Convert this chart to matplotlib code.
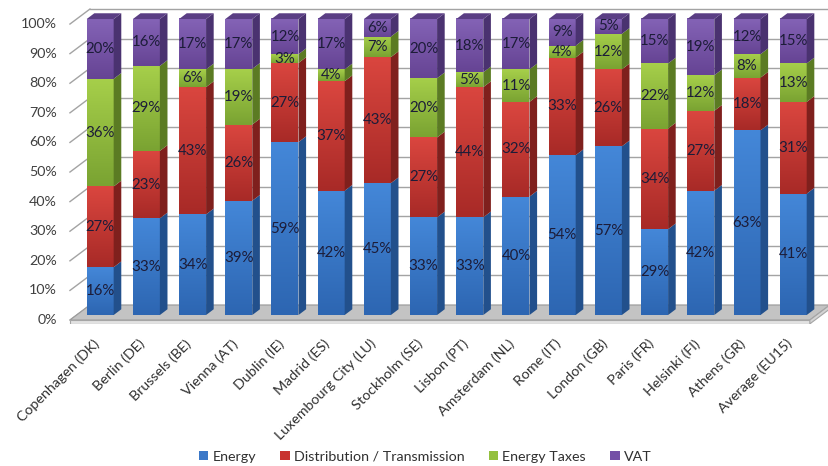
import numpy as np
import matplotlib
matplotlib.use('Agg')
import matplotlib.pyplot as plt
from matplotlib.patches import Polygon, Patch
from matplotlib.colors import LinearSegmentedColormap

cities = ['Copenhagen (DK)', 'Berlin (DE)', 'Brussels (BE)', 'Vienna (AT)',
          'Dublin (IE)', 'Madrid (ES)', 'Luxembourg City (LU)', 'Stockholm (SE)',
          'Lisbon (PT)', 'Amsterdam (NL)', 'Rome (IT)', 'London (GB)',
          'Paris (FR)', 'Helsinki (FI)', 'Athens (GR)', 'Average (EU15)']
energy = [16, 33, 34, 39, 59, 42, 45, 33, 33, 40, 54, 57, 29, 42, 63, 41]
distribution = [27, 23, 43, 26, 27, 37, 43, 27, 44, 32, 33, 26, 34, 27, 18, 31]
energy_taxes = [36, 29, 6, 19, 3, 4, 7, 20, 5, 11, 4, 12, 22, 12, 8, 13]
vat = [20, 16, 17, 17, 12, 17, 6, 20, 18, 17, 9, 5, 15, 19, 12, 15]
series_names = ['Energy', 'Distribution / Transmission', 'Energy Taxes', 'VAT']
y_ticks = list(range(0, 101, 10))

# (light, dark, side, top) per series
palette = [
    ('#4487d8', '#2d66b2', '#22508c', '#3566a6'),
    ('#da463f', '#a82a27', '#7f201d', '#9a2a26'),
    ('#a6cf4a', '#7aa332', '#5b7b23', '#6f9230'),
    ('#8463b6', '#664494', '#4a3270', '#5a3e84'),
]
legend_colors = ['#3b78c8', '#c8332f', '#94c03e', '#7450a6']

plt.rcParams['font.family'] = ['Lato', 'DejaVu Sans']

fig = plt.figure(figsize=(8.29, 4.66), dpi=100)
ax = fig.add_axes([0.0651, 0.3049, 0.9363, 0.686])
ax.axis('off')

# fake 3D geometry (data units)
FX, FV = -0.145, -1.69     # front edge of floor / side wall
BX, BV = 0.288, 3.38       # back wall
DX, DV = 0.165, 1.95       # bar depth
XL, XR = -0.509, 15.505
W = 0.584
grid_c = '#a3a3a3'

# back wall + left wall grid
for v in y_ticks:
    ax.plot([XL + BX, XR + BX], [v + BV, v + BV], color=grid_c, lw=1.0, zorder=1)
    ax.plot([XL + FX, XL + BX], [v + FV, v + BV], color=grid_c, lw=1.0, zorder=1)
    ax.text(XL + FX - 0.28, v + FV, f'{v}%', ha='right', va='center',
            fontsize=10.3, color='#404040')

# floor slab
th = 1.3
ax.add_patch(Polygon([(XL + FX, FV), (XR + FX, FV), (XR + BX, BV), (XL + BX, BV)],
                     closed=True, fc='#c3c3c3', ec='#9c9c9c', lw=0.8, zorder=2))
ax.add_patch(Polygon([(XL + FX, FV), (XR + FX, FV), (XR + FX, FV - th), (XL + FX, FV - th)],
                     closed=True, fc='#e2e2e2', ec='#a5a5a5', lw=0.8, zorder=2))
ax.add_patch(Polygon([(XR + FX, FV), (XR + BX, BV), (XR + BX, BV - th), (XR + FX, FV - th)],
                     closed=True, fc='#d4d4d4', ec='#a5a5a5', lw=0.8, zorder=2))

# stacked bars, normalised to 100 %
data = np.array([energy, distribution, energy_taxes, vat], dtype=float)
shares = data / data.sum(axis=0) * 100
x = np.arange(len(cities))
bottoms = np.zeros(len(cities))
grad = np.linspace(0, 1, 64).reshape(-1, 1)

for k, (vals, labels_raw) in enumerate(zip(shares, data)):
    light, dark, side, lid = palette[k]
    cmap = LinearSegmentedColormap.from_list(f's{k}', [dark, light])
    bars = ax.bar(x, vals, W, bottom=bottoms, color=light, linewidth=0, zorder=3)
    for i, rect in enumerate(bars):
        x0 = rect.get_x()
        x1 = x0 + rect.get_width()
        b, h = bottoms[i], vals[i]
        ax.imshow(grad, cmap=cmap, extent=[x0, x1, b, b + h], origin='lower',
                  aspect='auto', zorder=3.1, interpolation='bilinear')
        ax.add_patch(Polygon([(x1, b), (x1 + DX, b + DV), (x1 + DX, b + h + DV), (x1, b + h)],
                             closed=True, fc=side, ec='none', zorder=3.2))
        if k == len(shares) - 1:
            top = b + h
            ax.add_patch(Polygon([(x0, top), (x1, top), (x1 + DX, top + DV), (x0 + DX, top + DV)],
                                 closed=True, fc=lid, ec='none', zorder=3.2))
        ax.text(x[i], b + h / 2, f'{labels_raw[i]:.0f}%', ha='center', va='center',
                fontsize=10.8, color='#1c1c38', zorder=4)
    bottoms += vals

for i, name in enumerate(cities):
    ax.text(x[i] - 0.07, -9.0, name, rotation=45, rotation_mode='anchor',
            ha='right', va='center', fontsize=10.3, color='#303030')

ax.set_xlim(-1.0, 15.8)
ax.set_ylim(-3, 105)

handles = [Patch(fc=c, ec='none') for c in legend_colors]
leg = fig.legend(handles, series_names, loc='center', bbox_to_anchor=(0.513, 0.02),
                 ncol=4, frameon=False, fontsize=10.3, handlelength=0.65,
                 handleheight=0.65, handletextpad=0.3, columnspacing=1.7)
for t in leg.get_texts():
    t.set_color('#303030')

fig.savefig('out.png', dpi=100)
